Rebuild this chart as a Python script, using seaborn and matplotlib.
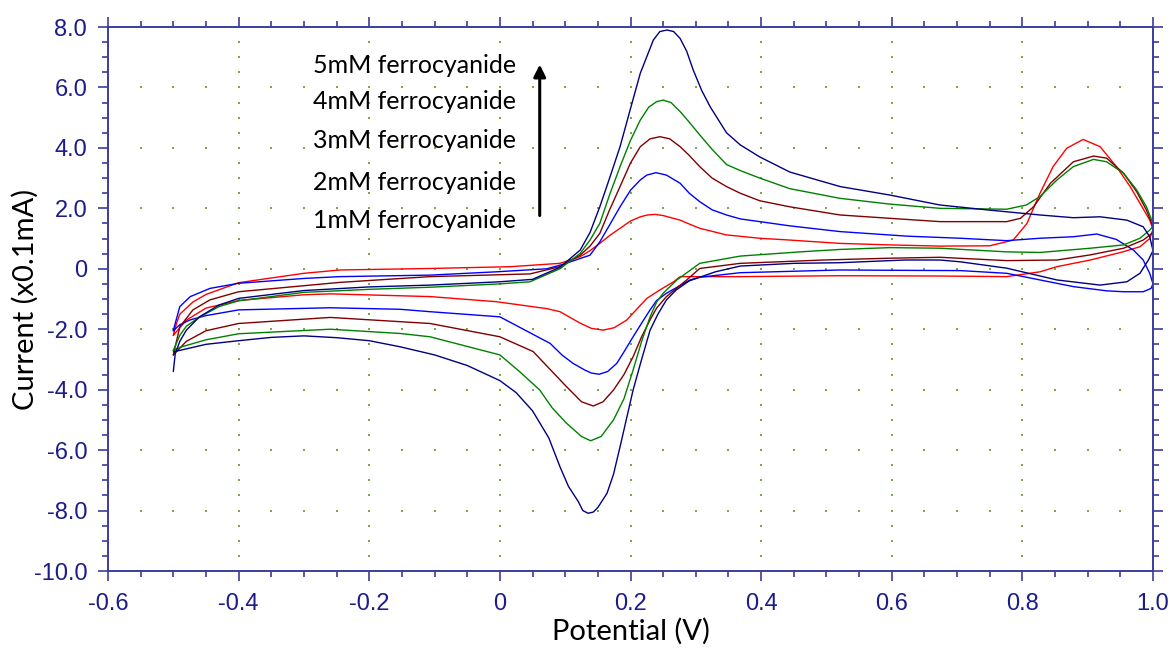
import numpy as np
import pandas as pd
import seaborn as sns
import matplotlib
matplotlib.use("Agg")
import matplotlib.pyplot as plt
from matplotlib.ticker import MultipleLocator, FuncFormatter

sns.set_theme(style="ticks")
plt.rcParams["font.family"] = ["Liberation Sans", "DejaVu Sans"]
plt.rcParams["axes.unicode_minus"] = False

# cyclic voltammograms, potential (V) vs current (x0.1 mA); forward scan then reverse scan
v_1mm_fwd = [-0.5, -0.495, -0.49, -0.47, -0.45, -0.4, -0.3, -0.245, -0.107, 0.017, 0.092, 0.123, 0.138, 0.153,
             0.168, 0.184, 0.2, 0.215, 0.226, 0.238, 0.25, 0.276, 0.29, 0.306, 0.347, 0.398, 0.444, 0.521,
             0.597, 0.674, 0.75, 0.786, 0.807, 0.827, 0.847, 0.868, 0.893, 0.919, 0.944, 0.965, 0.98,
             0.995, 1.0]
i_1mm_fwd = [-2.2, -1.8, -1.5, -1.1, -0.85, -0.46, -0.15, -0.04, 0.01, 0.07, 0.18, 0.40, 0.6, 0.84,
             1.1, 1.34, 1.58, 1.72, 1.78, 1.80, 1.76, 1.61, 1.48, 1.34, 1.12, 1.01, 0.95, 0.84,
             0.79, 0.75, 0.76, 0.95, 1.5, 2.5, 3.38, 3.99, 4.28, 4.04, 3.38, 2.72, 2.17,
             1.61, 1.3]
v_1mm_rev = [1.0, 0.995, 0.98, 0.954, 0.904, 0.853, 0.827, 0.776, 0.674, 0.52, 0.368, 0.276, 0.266, 0.245,
             0.225, 0.194, 0.175, 0.158, 0.14, 0.123, 0.092, 0.072, -0.005, -0.107, -0.26, -0.3, -0.4,
             -0.45, -0.48, -0.5]
i_1mm_rev = [1.3, 1.0, 0.73, 0.56, 0.29, 0.07, -0.1, -0.26, -0.24, -0.23, -0.26, -0.26, -0.43, -0.70,
             -0.98, -1.70, -1.95, -2.03, -1.97, -1.80, -1.42, -1.32, -1.09, -0.92, -0.83, -0.86, -1.05,
             -1.3, -1.7, -2.2]

v_2mm_fwd = [-0.5, -0.497, -0.49, -0.474, -0.444, -0.4, -0.3, -0.245, -0.107, -0.005, 0.072, 0.097, 0.123,
             0.138, 0.153, 0.168, 0.184, 0.2, 0.215, 0.225, 0.239, 0.255, 0.276, 0.29, 0.306, 0.325, 0.347,
             0.368, 0.398, 0.444, 0.521, 0.623, 0.705, 0.776, 0.827, 0.878, 0.914, 0.944, 0.97, 0.985,
             0.995, 1.0]
i_2mm_fwd = [-2.05, -1.8, -1.25, -0.92, -0.65, -0.48, -0.32, -0.26, -0.21, -0.10, 0.0, 0.15, 0.34,
             0.45, 0.89, 1.45, 2.05, 2.6, 2.94, 3.1, 3.18, 3.1, 2.83, 2.5, 2.22, 1.95, 1.78,
             1.65, 1.56, 1.42, 1.23, 1.08, 1.01, 0.93, 1.01, 1.06, 1.15, 0.97, 0.62, 0.29,
             -0.15, -0.5]
v_2mm_rev = [1.0, 0.997, 0.985, 0.955, 0.929, 0.878, 0.827, 0.776, 0.705, 0.6, 0.521, 0.368, 0.306, 0.291,
             0.255, 0.24, 0.23, 0.217, 0.204, 0.19, 0.179, 0.165, 0.152, 0.14, 0.13, 0.112, 0.095, 0.077,
             0.0, -0.107, -0.153, -0.26, -0.4, -0.45, -0.474, -0.49, -0.5]
i_2mm_rev = [-0.5, -0.65, -0.76, -0.76, -0.73, -0.59, -0.37, -0.15, -0.06, -0.05, -0.04, -0.13, -0.28, -0.37,
             -0.81, -1.05, -1.36, -1.8, -2.25, -2.75, -3.13, -3.4, -3.49, -3.45, -3.35, -3.13, -2.85, -2.47,
             -1.59, -1.42, -1.34, -1.29, -1.36, -1.55, -1.69, -1.85, -2.05]

v_3mm_fwd = [-0.5, -0.49, -0.47, -0.444, -0.4, -0.245, -0.107, 0.046, 0.092, 0.123, 0.138, 0.153, 0.168,
             0.184, 0.2, 0.215, 0.23, 0.245, 0.26, 0.276, 0.29, 0.306, 0.325, 0.347, 0.368, 0.398, 0.444,
             0.521, 0.597, 0.674, 0.776, 0.797, 0.817, 0.843, 0.878, 0.909, 0.929, 0.955, 0.975, 0.99, 1.0]
i_3mm_fwd = [-2.85, -1.92, -1.36, -1.03, -0.76, -0.45, -0.26, -0.17, 0.07, 0.45, 0.75, 1.17, 1.95,
             2.72, 3.5, 4.04, 4.3, 4.37, 4.3, 4.04, 3.75, 3.38, 3.0, 2.72, 2.5, 2.25, 2.05,
             1.78, 1.67, 1.56, 1.56, 1.67, 2.05, 2.83, 3.54, 3.73, 3.66, 3.16, 2.55, 1.94, 1.4]
v_3mm_rev = [1.0, 0.985, 0.955, 0.904, 0.853, 0.776, 0.674, 0.597, 0.495, 0.368, 0.306, 0.286, 0.255, 0.24,
             0.23, 0.217, 0.204, 0.19, 0.174, 0.158, 0.143, 0.125, 0.102, 0.08, 0.051, 0.0, -0.107,
             -0.153, -0.26, -0.4, -0.45, -0.48, -0.5]
i_3mm_rev = [1.2, 0.95, 0.68, 0.46, 0.29, 0.27, 0.38, 0.35, 0.29, 0.18, 0.01, -0.37, -0.92, -1.3,
             -1.69, -2.25, -2.91, -3.5, -4.01, -4.4, -4.54, -4.4, -3.9, -3.4, -2.74, -2.25, -1.81,
             -1.75, -1.61, -1.81, -2.05, -2.4, -2.85]

v_4mm_fwd = [-0.5, -0.49, -0.48, -0.46, -0.43, -0.4, -0.3, -0.2, -0.107, 0.0, 0.046, 0.092, 0.123, 0.138,
             0.153, 0.168, 0.184, 0.2, 0.215, 0.228, 0.24, 0.25, 0.262, 0.276, 0.29, 0.306, 0.325, 0.347,
             0.368, 0.398, 0.444, 0.521, 0.597, 0.674, 0.776, 0.806, 0.827, 0.853, 0.878, 0.909, 0.929,
             0.955, 0.975, 0.99, 1.0]
i_4mm_fwd = [-2.7, -2.2, -1.9, -1.6, -1.25, -1.06, -0.78, -0.68, -0.61, -0.5, -0.43, 0.0, 0.51, 0.95,
             1.50, 2.45, 3.38, 4.25, 4.92, 5.35, 5.53, 5.58, 5.5, 5.2, 4.85, 4.43, 3.95, 3.45,
             3.25, 3.0, 2.65, 2.33, 2.14, 2.0, 1.97, 2.11, 2.39, 2.94, 3.38, 3.62, 3.54,
             3.16, 2.61, 2.05, 1.5]
v_4mm_rev = [1.0, 0.995, 0.98, 0.955, 0.904, 0.827, 0.776, 0.674, 0.597, 0.521, 0.46, 0.368, 0.306, 0.271,
             0.25, 0.24, 0.23, 0.217, 0.204, 0.19, 0.174, 0.155, 0.139, 0.125, 0.102, 0.08, 0.061, 0.03,
             0.0, -0.107, -0.153, -0.26, -0.4, -0.45, -0.49, -0.5]
i_4mm_rev = [1.4, 1.28, 1.01, 0.79, 0.68, 0.54, 0.56, 0.68, 0.70, 0.64, 0.56, 0.42, 0.18, -0.37,
             -0.81, -1.1, -1.59, -2.4, -3.35, -4.3, -5.0, -5.55, -5.69, -5.55, -5.11, -4.6, -4.01, -3.4,
             -2.85, -2.25, -2.14, -2.0, -2.15, -2.35, -2.6, -2.7]

v_5mm_fwd = [-0.5, -0.497, -0.49, -0.48, -0.46, -0.43, -0.4, -0.3, -0.2, -0.107, 0.0, 0.05, 0.092, 0.123,
             0.138, 0.153, 0.168, 0.184, 0.2, 0.215, 0.235, 0.245, 0.256, 0.266, 0.276, 0.286, 0.296, 0.309,
             0.322, 0.347, 0.368, 0.398, 0.444, 0.521, 0.597, 0.674, 0.75, 0.827, 0.878, 0.919, 0.96,
             0.985, 0.995, 1.0]
i_5mm_fwd = [-3.4, -2.8, -2.4, -2.03, -1.59, -1.2, -0.98, -0.72, -0.6, -0.54, -0.43, -0.35, 0.05, 0.62,
             1.2, 2.05, 3.0, 4.04, 5.3, 6.47, 7.57, 7.85, 7.9, 7.85, 7.62, 7.2, 6.58, 5.9,
             5.36, 4.5, 4.1, 3.7, 3.2, 2.72, 2.44, 2.11, 1.94, 1.78, 1.69, 1.72, 1.61,
             1.39, 1.06, 0.6]
v_5mm_rev = [1.0, 0.993, 0.98, 0.96, 0.919, 0.853, 0.776, 0.705, 0.674, 0.62, 0.52, 0.45, 0.368, 0.33,
             0.29, 0.27, 0.255, 0.242, 0.23, 0.217, 0.204, 0.194, 0.184, 0.174, 0.164, 0.15, 0.143, 0.135,
             0.127, 0.12, 0.105, 0.092, 0.075, 0.05, 0.025, 0.0, -0.05, -0.1, -0.153, -0.2, -0.25, -0.3,
             -0.35, -0.4, -0.45, -0.49, -0.5]
i_5mm_rev = [0.6, 0.29, -0.15, -0.43, -0.54, -0.37, 0.02, 0.23, 0.29, 0.29, 0.2, 0.18, 0.09, -0.1,
             -0.4, -0.7, -1.03, -1.5, -2.03, -3.0, -4.01, -4.95, -5.89, -6.8, -7.43, -7.9, -8.05, -8.09,
             -8.0, -7.7, -7.2, -6.55, -5.6, -4.7, -4.1, -3.7, -3.2, -2.85, -2.58, -2.38, -2.28, -2.22,
             -2.27, -2.38, -2.5, -2.7, -2.75]

labels = ["1mM ferrocyanide", "2mM ferrocyanide", "3mM ferrocyanide", "4mM ferrocyanide", "5mM ferrocyanide"]
colors = ["#ff0000", "#0000ff", "#800000", "#008000", "#000080"]

scans = [
    (v_1mm_fwd + v_1mm_rev, i_1mm_fwd + i_1mm_rev),
    (v_2mm_fwd + v_2mm_rev, i_2mm_fwd + i_2mm_rev),
    (v_3mm_fwd + v_3mm_rev, i_3mm_fwd + i_3mm_rev),
    (v_4mm_fwd + v_4mm_rev, i_4mm_fwd + i_4mm_rev),
    (v_5mm_fwd + v_5mm_rev, i_5mm_fwd + i_5mm_rev),
]
frames = []
for lab, (v, i) in zip(labels, scans):
    frames.append(pd.DataFrame({"potential": v, "current": i, "conc": lab}))
df = pd.concat(frames, ignore_index=True)

axis_col = "#3c3ca0"
label_col = "#1c1c8a"
grid_col = "#7aa84a"

fig = plt.figure(figsize=(11.72, 6.58), dpi=100)
ax = fig.add_axes([108 / 1172, 1 - 571 / 658, (1153 - 108) / 1172, (571 - 27) / 658])

# dotted grid: dots on each major line, spaced at the minor ticks
for gy in np.arange(-8, 8, 2):
    gx = np.arange(-0.55, 0.99, 0.05)
    ax.scatter(gx, np.full_like(gx, gy), s=1.5, marker="s", color=grid_col, lw=0, zorder=0)
for gx in np.arange(-0.4, 0.99, 0.2):
    gy = np.arange(-9.5, 7.9, 0.5)
    ax.scatter(np.full_like(gy, gx), gy, s=1.5, marker="s", color=grid_col, lw=0, zorder=0)

sns.lineplot(data=df, x="potential", y="current", hue="conc", palette=dict(zip(labels, colors)),
             sort=False, estimator=None, legend=False, lw=1.0, ax=ax)

ax.set_xlim(-0.6, 1.0)
ax.set_ylim(-10, 8)
ax.xaxis.set_major_locator(MultipleLocator(0.2))
ax.xaxis.set_minor_locator(MultipleLocator(0.05))
ax.yaxis.set_major_locator(MultipleLocator(2))
ax.yaxis.set_minor_locator(MultipleLocator(0.5))
fmt = FuncFormatter(lambda v, p: "0" if abs(v) < 1e-9 else f"{v:.1f}")
ax.xaxis.set_major_formatter(fmt)
ax.yaxis.set_major_formatter(fmt)

for s in ax.spines.values():
    s.set_visible(True)
    s.set_color(axis_col)
    s.set_linewidth(1.4)
ax.tick_params(which="both", direction="out", top=True, right=True, color=axis_col,
               labelcolor=label_col, width=1.2)
ax.tick_params(which="major", length=7, labelsize=17)
ax.tick_params(which="minor", length=4)
ax.tick_params(axis="y", pad=8)
ax.tick_params(axis="x", pad=9)

ax.set_xlabel("Potential (V)", fontsize=21, family=["Lato", "DejaVu Sans"], color="black", labelpad=2)
ax.set_ylabel("Current (x0.1mA)", fontsize=21, family=["Lato", "DejaVu Sans"], color="black", labelpad=-4)

text_y = [1.61, 2.87, 4.23, 5.52, 6.74]
for lab, ty in zip(labels, text_y):
    ax.text(-0.286, ty, lab, ha="left", va="center", fontsize=18, family=["Lato", "DejaVu Sans"], color="black")
ax.annotate("", xy=(0.061, 6.85), xytext=(0.061, 1.67),
            arrowprops=dict(arrowstyle="-|>", color="black", lw=2.2, mutation_scale=18))

fig.savefig("out.png", dpi=100)
